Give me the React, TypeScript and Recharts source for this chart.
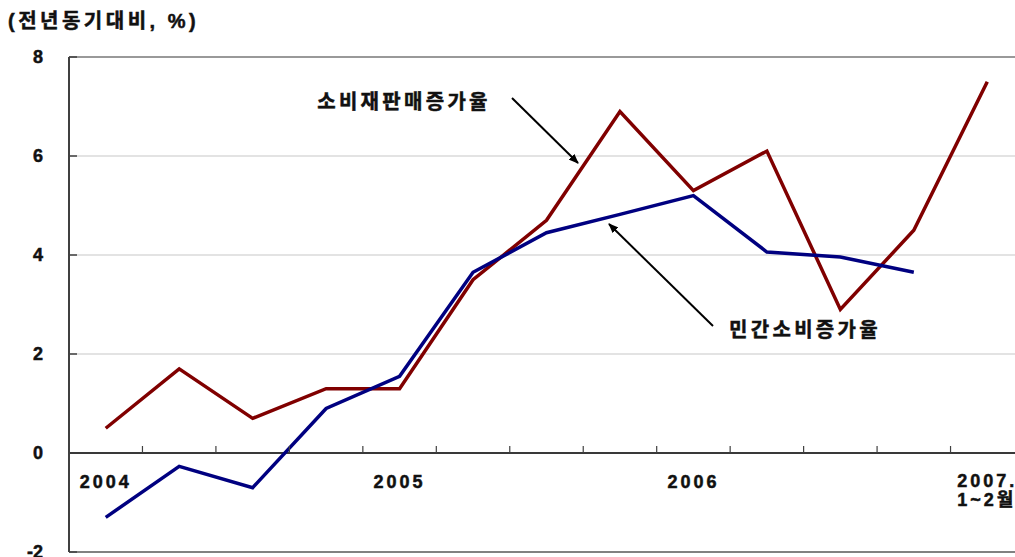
import React from "react";
import { LineChart, Line, XAxis, YAxis, CartesianGrid, ReferenceLine } from "recharts";

const categories = [
  "2004.1", "2004.2", "2004.3", "2004.4",
  "2005.1", "2005.2", "2005.3", "2005.4",
  "2006.1", "2006.2", "2006.3", "2006.4",
  "2007.1-2",
];
const tickLabels = [
  "2004", "", "", "",
  "2005", "", "", "",
  "2006", "", "", "",
  "2007.|1~2월",
];
const retailSales = [0.5, 1.7, 0.7, 1.3, 1.3, 3.5, 4.7, 6.9, 5.3, 6.1, 2.9, 4.5, 7.5];
const privateConsumption = [-1.3, -0.27, -0.7, 0.9, 1.55, 3.65, 4.45, 4.82, 5.2, 4.06, 3.96, 3.65, null];
const yTicks = [-2, 0, 2, 4, 6, 8];

const data = categories.map((c, i) => ({
  cat: c,
  label: tickLabels[i],
  sales: retailSales[i],
  cons: privateConsumption[i],
}));

const CHART_W = 1030;
const CHART_H = 557;
const X_H = 1;
const M = { top: 57, right: 6, bottom: 4, left: 0 };
const Y_W = 69;
const PLOT_W = CHART_W - M.left - M.right - Y_W;
const PLOT_H = CHART_H - M.top - M.bottom - X_H;
const BAND = PLOT_W / categories.length;
const ZERO_UP = (PLOT_H * 2) / 10;

const FONT = "'Liberation Sans', Arial, 'Noto Sans CJK KR', sans-serif";
const HEAVY = { stroke: "#111", strokeWidth: 0.5 };

const XTick = (props: any) => {
  const { x, index } = props;
  const y = M.top + PLOT_H;
  const lbl: string = tickLabels[index] || "";
  const zy = y - ZERO_UP;
  const parts = lbl.split("|");
  return (
    <g>
      {index < categories.length - 1 && (
        <line x1={x + BAND / 2} x2={x + BAND / 2} y1={zy} y2={zy - 7} stroke="#404040" strokeWidth={1.2} />
      )}
      {parts.length === 1 && lbl !== "" && (
        <text x={x} y={zy + 35} textAnchor="middle" fontFamily={FONT} fontWeight="bold" fontSize={18} letterSpacing={3} fill="#111" {...HEAVY}>
          {lbl}
        </text>
      )}
      {parts.length > 1 && (
        <text fontFamily={FONT} fontWeight="bold" fontSize={18} letterSpacing={3} fill="#111" {...HEAVY}>
          <tspan x={x - 30} y={zy + 34}>{parts[0]}</tspan>
          <tspan x={x - 30} y={zy + 53}>{parts[1]}</tspan>
        </text>
      )}
    </g>
  );
};

const YTick = (props: any) => {
  const { x, y, payload } = props;
  return (
    <g>
      {payload.value !== 0 && (
        <line x1={x} x2={x + 8} y1={y} y2={y} stroke="#404040" strokeWidth={1.5} />
      )}
      <text x={x - 26} y={y + 6} textAnchor="end" fontFamily={FONT} fontWeight="bold" fontSize={18} fill="#111" {...HEAVY}>
        {payload.value}
      </text>
    </g>
  );
};

export default function App() {
  return (
    <div style={{ position: "absolute", left: 0, top: 0, width: 1015, height: 557, overflow: "hidden", background: "#fff" }}>
      <LineChart width={CHART_W} height={CHART_H} data={data} margin={M}>
        <CartesianGrid horizontal vertical={false} stroke="#c8c8c8" strokeWidth={1.2} />
        <XAxis
          dataKey="cat"
          interval={0}
          axisLine={false}
          tickLine={false}
          tickSize={0}
          tickMargin={0}
          height={X_H}
          padding={{ left: BAND / 2, right: BAND / 2 }}
          tick={<XTick />}
        />
        <YAxis
          domain={[-2, 8]}
          ticks={yTicks}
          width={Y_W}
          tickSize={0}
          tickMargin={0}
          tickLine={false}
          axisLine={{ stroke: "#404040", strokeWidth: 2 }}
          tick={<YTick />}
          interval={0}
        />
        <ReferenceLine y={8} stroke="#808080" strokeWidth={1.5} />
        <ReferenceLine y={-2} stroke="#606060" strokeWidth={1.5} />
        <ReferenceLine y={0} stroke="#000" strokeWidth={1.5} />
        <Line dataKey="sales" type="linear" stroke="#800000" strokeWidth={3.5} dot={false} isAnimationActive={false} />
        <Line dataKey="cons" type="linear" stroke="#000080" strokeWidth={3.5} dot={false} isAnimationActive={false} connectNulls={false} />
      </LineChart>
      <svg width={1015} height={557} style={{ position: "absolute", left: 0, top: 0, pointerEvents: "none" }}>
        <defs>
          <marker id="ah" markerWidth="10" markerHeight="8" refX="9" refY="4" orient="auto" markerUnits="userSpaceOnUse">
            <path d="M0,0 L10,4 L0,8 Z" fill="#000" />
          </marker>
        </defs>
        <text x={8} y={28} fontFamily={FONT} fontWeight="bold" fontSize={20} letterSpacing={3.5} fill="#111" {...HEAVY}>
          (전년동기대비, %)
        </text>
        <text x={404} y={109} textAnchor="middle" fontFamily={FONT} fontWeight="bold" fontSize={20} letterSpacing={3.3} fill="#111" {...HEAVY}>
          소비재판매증가율
        </text>
        <line x1={512} y1={98} x2={578} y2={163} stroke="#000" strokeWidth={2} markerEnd="url(#ah)" />
        <text x={805} y={337} textAnchor="middle" fontFamily={FONT} fontWeight="bold" fontSize={20} letterSpacing={3.3} fill="#111" {...HEAVY}>
          민간소비증가율
        </text>
        <line x1={713} y1={326} x2={609} y2={224} stroke="#000" strokeWidth={2} markerEnd="url(#ah)" />
      </svg>
    </div>
  );
}
